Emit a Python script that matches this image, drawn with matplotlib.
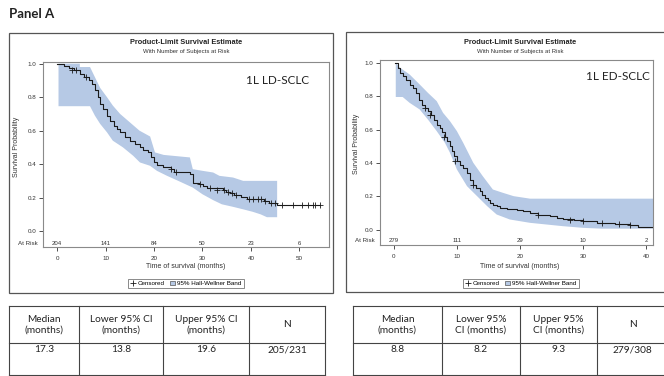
import matplotlib
matplotlib.use("Agg")
import matplotlib.pyplot as plt
import numpy as np
from matplotlib.lines import Line2D
from matplotlib.patches import Rectangle, Patch

# ---------------- data ----------------
# Left panel: 1L LD-SCLC
ld_time = [0, 1.5, 2.5, 3.5, 4.8, 5.5, 6.5, 7.2, 7.8, 8.4, 8.9, 9.5, 10.3, 11.0, 11.8, 12.4, 13.0, 14.0,
           15.0, 16.0, 17.1, 17.8, 18.8, 19.4, 19.9, 20.6, 21.8, 22.7, 23.6, 24.2, 27.4, 28.0, 29.2, 30.2,
           31.0, 34.2, 34.9, 35.6, 36.6, 38.0, 39.2, 42.6, 43.8, 45.4, 54.2]
ld_surv = [1.0, 0.985, 0.975, 0.96, 0.94, 0.92, 0.90, 0.88, 0.84, 0.80, 0.76, 0.73, 0.69, 0.66, 0.63, 0.61,
           0.59, 0.565, 0.54, 0.52, 0.50, 0.485, 0.47, 0.44, 0.41, 0.395, 0.385, 0.38, 0.37, 0.35, 0.34,
           0.29, 0.28, 0.27, 0.26, 0.245, 0.235, 0.225, 0.215, 0.205, 0.19, 0.18, 0.17, 0.155, 0.155]
ld_upper_time = [0.3, 4.7, 4.7, 6.8, 7.8, 8.9, 10.3, 11.5, 13.0, 15.0, 17.0, 19.2, 20.2, 22.0, 27.4, 28.0,
                 30.0, 32.2, 33.5, 36.3, 38.4, 45.4]
ld_upper = [1.0, 1.0, 0.98, 0.98, 0.92, 0.855, 0.80, 0.75, 0.70, 0.65, 0.60, 0.565, 0.47, 0.455, 0.44, 0.37,
            0.36, 0.35, 0.33, 0.32, 0.30, 0.30]
ld_lower_time = [0.3, 6.8, 7.8, 8.9, 10.3, 11.5, 13.6, 15.7, 17.1, 19.2, 20.6, 22.7, 25.0, 28.0, 30.0, 32.2,
                 34.0, 36.3, 38.4, 40.4, 42.0, 43.3, 45.4]
ld_lower = [0.746, 0.746, 0.69, 0.64, 0.59, 0.54, 0.50, 0.45, 0.41, 0.39, 0.36, 0.33, 0.30, 0.26, 0.22, 0.185,
            0.16, 0.145, 0.13, 0.115, 0.10, 0.083, 0.083]
ld_cens_time = [3.0, 4.0, 6.0, 23.5, 24.5, 29.5, 31.5, 33.0, 34.5, 35.2, 36.0, 37.0, 39.5, 40.5, 41.5, 42.0,
                43.0, 44.2, 45.0, 46.4, 48.7, 50.5, 51.8, 52.8, 53.2, 54.2]
ld_cens_surv = [0.96, 0.96, 0.92, 0.37, 0.35, 0.28, 0.26, 0.245, 0.245, 0.235, 0.225, 0.215, 0.19, 0.19, 0.19,
                0.19, 0.18, 0.17, 0.17, 0.155, 0.155, 0.155, 0.155, 0.155, 0.155, 0.155]
ld_risk_time = [0, 10, 20, 30, 40, 50]
ld_risk_n = [204, 141, 84, 50, 23, 6]
ld_xticks = [0, 10, 20, 30, 40, 50]

# Right panel: 1L ED-SCLC
ed_time = [0.2, 0.6, 1.0, 1.5, 2.0, 2.5, 3.0, 3.5, 4.0, 4.4, 4.9, 5.4, 5.9, 6.4, 6.9, 7.3, 7.7, 8.1, 8.5,
           8.9, 9.2, 9.6, 10.0, 10.5, 11.0, 11.6, 12.1, 12.6, 13.1, 13.6, 14.0, 14.4, 14.9, 15.3, 15.7,
           16.3, 16.8, 18.0, 19.5, 20.5, 21.6, 22.9, 24.8, 25.8, 26.8, 28.5, 30.0, 32.2, 35.0, 37.5,
           38.7, 41.4]
ed_surv = [1.0, 0.97, 0.94, 0.92, 0.90, 0.87, 0.85, 0.82, 0.78, 0.75, 0.73, 0.71, 0.69, 0.66, 0.63, 0.61,
           0.585, 0.557, 0.53, 0.50, 0.47, 0.44, 0.41, 0.39, 0.37, 0.34, 0.30, 0.27, 0.25, 0.23, 0.21, 0.19,
           0.175, 0.16, 0.15, 0.14, 0.13, 0.125, 0.12, 0.11, 0.10, 0.085, 0.08, 0.07, 0.065, 0.055, 0.05,
           0.04, 0.035, 0.03, 0.015, 0.015]
ed_upper_time = [0.3, 1.0, 2.5, 4.1, 5.4, 6.8, 7.8, 8.9, 10.0, 11.0, 12.6, 14.1, 15.7, 17.3, 19.0, 21.6, 41.1]
ed_upper = [1.0, 0.97, 0.93, 0.87, 0.82, 0.77, 0.70, 0.65, 0.59, 0.52, 0.40, 0.32, 0.24, 0.22, 0.20, 0.185,
            0.185]
ed_lower_time = [0.3, 1.4, 2.5, 4.1, 5.4, 6.8, 8.1, 8.9, 10.0, 11.6, 13.2, 14.8, 16.3, 18.4, 21.6, 26.8, 30.0,
                 33.0, 41.1]
ed_lower = [0.795, 0.795, 0.76, 0.72, 0.66, 0.59, 0.52, 0.46, 0.36, 0.26, 0.20, 0.14, 0.09, 0.06, 0.04, 0.02,
            0.01, 0.005, 0.005]
ed_cens_time = [5.0, 5.7, 8.0, 9.7, 12.5, 22.9, 28.0, 30.0, 33.0, 35.7, 37.5, 41.4]
ed_cens_surv = [0.73, 0.69, 0.557, 0.41, 0.27, 0.085, 0.055, 0.05, 0.04, 0.035, 0.03, 0.015]
ed_risk_time = [0, 10, 20, 30, 40]
ed_risk_n = [279, 111, 29, 10, 2]
ed_xticks = [0, 10, 20, 30, 40]

yticks = [0.0, 0.2, 0.4, 0.6, 0.8, 1.0]
ld_label = "1L LD-SCLC"
ed_label = "1L ED-SCLC"

tbl_left_head = ["Median\n(months)", "Lower 95% CI\n(months)", "Upper 95% CI\n(months)", "N"]
tbl_left_vals = ["17.3", "13.8", "19.6", "205/231"]
tbl_right_head = ["Median\n(months)", "Lower 95%\nCI (months)", "Upper 95%\nCI (months)", "N"]
tbl_right_vals = ["8.8", "8.2", "9.3", "279/308"]

# ---------------- layout ----------------
W, H = 664, 376
fig = plt.figure(figsize=(W / 100, H / 100), dpi=100)
fig.patch.set_facecolor("white")

def fx(px):
    return px / W

def fy(py):
    return 1 - py / H

SAS = "Liberation Sans"
CAL = "Lato"
band_col = "#b6c9e5"
line_col = "#1a1a1a"
frame_col = "#8a8a8a"

fig.text(fx(9), fy(14), "Panel A", fontsize=9.5, fontweight="bold", family=CAL, ha="left", va="center",
         color="#222222")


def box(x0, y0, x1, y1, col="#555555", lw=0.9):
    r = Rectangle((fx(x0), fy(y1)), fx(x1) - fx(x0), fy(y0) - fy(y1), transform=fig.transFigure,
                  fill=False, edgecolor=col, linewidth=lw)
    fig.add_artist(r)


def panel(ax_px, xlim, ylim, t, s, ut, uv, lt, lv, ct, cs, rt, rn, xt, label, label_px,
          title_cx, legend_cx, ylab_x, atrisk_y):
    x0, y0, x1, y1 = ax_px
    ax = fig.add_axes([fx(x0), fy(y1), fx(x1) - fx(x0), fy(y0) - fy(y1)])
    ax.fill(np.r_[ut, lt[::-1]], np.r_[uv, lv[::-1]], color=band_col, linewidth=0)
    ax.step(t, s, where="post", color=line_col, linewidth=0.8)
    ax.plot(ct, cs, linestyle="none", marker="+", markersize=4, markeredgewidth=0.6, color=line_col)
    ax.set_xlim(*xlim)
    ax.set_ylim(*ylim)
    ax.set_yticks(yticks)
    ax.set_yticklabels([f"{v:.1f}" for v in yticks])
    ax.set_xticks(xt)
    ax.set_xticklabels([str(v) for v in xt])
    for sp in ax.spines.values():
        sp.set_color(frame_col)
        sp.set_linewidth(0.8)
    ax.tick_params(axis="both", labelsize=4.5, colors="#333333", length=3, width=0.6, pad=2)
    ax.tick_params(axis="x", pad=3.5)
    for lab in ax.get_xticklabels() + ax.get_yticklabels():
        lab.set_family(SAS)
    for tt, n in zip(rt, rn):
        ax.text(tt, atrisk_y, str(n), fontsize=4.3, family=SAS, ha="center", va="center", color="#333333")
    ax.annotate("At Risk", xy=(0, atrisk_y), xycoords=("axes fraction", "data"), xytext=(-4, 0),
                textcoords="offset points", fontsize=4.5, family=SAS, ha="right", va="center",
                color="#333333")
    ax.text(label_px[0], label_px[1], label, transform=None, fontsize=8.5, family=CAL, ha="left",
            va="center", color="#222222")
    fig.text(fx(title_cx), fy(43), "Product-Limit Survival Estimate", fontsize=5.3, fontweight="bold",
             family=SAS, ha="center", va="center", color="#222222")
    fig.text(fx(title_cx), fy(51.5), "With Number of Subjects at Risk", fontsize=4.3,
             family=SAS, ha="center", va="center", color="#333333")
    fig.text(fx(title_cx), fy(266.5), "Time of survival (months)", fontsize=5, family=SAS,
             ha="center", va="center", color="#333333")
    fig.text(fx(ylab_x), fy((y0 + y1 - 16) / 2), "Survival Probability", fontsize=5, family=SAS,
             rotation=90, ha="center", va="center", color="#333333")
    handles = [Line2D([], [], linestyle="none", marker="+", markersize=4, markeredgewidth=0.6,
                      color=line_col),
               Patch(facecolor=band_col, edgecolor="#555555", linewidth=0.5)]
    leg = fig.legend(handles, ["Censored", "95% Hall-Wellner Band"], loc="center",
                     bbox_to_anchor=(fx(legend_cx), fy(283.5)), ncol=2,
                     frameon=True, fancybox=False, edgecolor="#555555", handlelength=0.8,
                     handletextpad=0.4, columnspacing=0.8, borderpad=0.35,
                     prop={"family": SAS, "size": 4.5})
    leg.get_frame().set_linewidth(0.6)
    return ax


# Left panel
box(9, 33, 333, 293)
axL = panel((43, 62, 329, 247), (-2.9, 56.1), (-0.095, 1.01), ld_time, ld_surv,
            np.array(ld_upper_time), np.array(ld_upper), np.array(ld_lower_time), np.array(ld_lower),
            ld_cens_time, ld_cens_surv, ld_risk_time, ld_risk_n,
            ld_xticks, ld_label, (246, H - 80), 186, 186, 17, -0.072)

# Right panel
box(346, 32, 668, 292)
axR = panel((380, 59.5, 653, 244.5), (-2.2, 41.1), (-0.09, 1.02), ed_time, ed_surv,
            np.array(ed_upper_time), np.array(ed_upper), np.array(ed_lower_time), np.array(ed_lower),
            ed_cens_time, ed_cens_surv, ed_risk_time, ed_risk_n,
            ed_xticks, ed_label, (586, H - 76), 520, 521, 357, -0.066)


def table(cols_px, rows_px, head, vals, data_y):
    col = "#444444"
    for xc in cols_px:
        fig.add_artist(Line2D([fx(xc), fx(xc)], [fy(rows_px[0]), fy(rows_px[-1])],
                              transform=fig.transFigure, color=col, linewidth=0.8))
    for yr in rows_px:
        fig.add_artist(Line2D([fx(cols_px[0]), fx(cols_px[-1])], [fy(yr), fy(yr)],
                              transform=fig.transFigure, color=col, linewidth=0.8))
    for i in range(len(head)):
        cx = (cols_px[i] + cols_px[i + 1]) / 2
        fig.text(fx(cx), fy((rows_px[0] + rows_px[1]) / 2), head[i], fontsize=7.3, family=CAL,
                 ha="center", va="center", color="#222222", linespacing=1.2)
        fig.text(fx(cx), fy(data_y), vals[i], fontsize=7.3, family=CAL, ha="center", va="center",
                 color="#222222")


table([9, 79, 163, 249, 325], [306, 343, 375], tbl_left_head, tbl_left_vals, 350)
table([353, 442, 520, 597, 668], [306, 343, 375], tbl_right_head, tbl_right_vals, 350)

fig.savefig("out.png", dpi=100, facecolor="white")
